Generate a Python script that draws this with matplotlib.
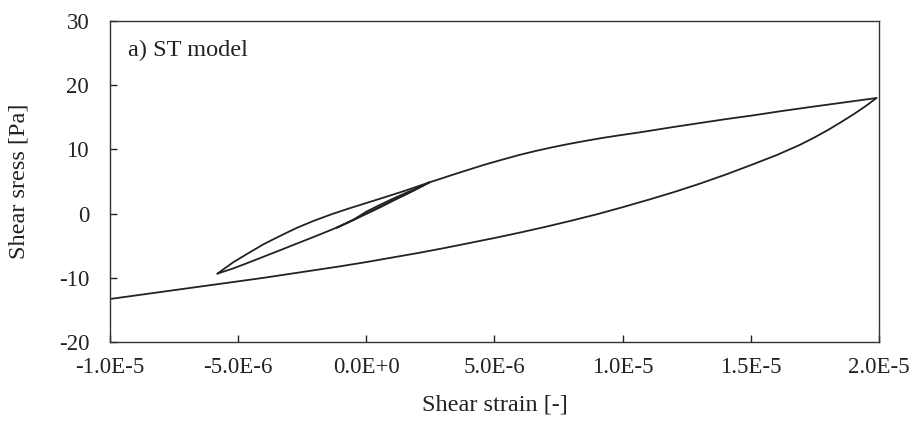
import matplotlib
matplotlib.use("Agg")
import matplotlib.pyplot as plt

plt.rcParams['font.family'] = ['Liberation Serif', 'DejaVu Serif']

# Big loop, lower (unloading) branch
big_lower_x = [1.99e-5, 1.95e-5, 1.9e-5, 1.848e-5, 1.8e-5, 1.75e-5, 1.691e-5, 1.6e-5, 1.5e-5,
               1.4e-5, 1.3e-5, 1.2e-5, 1.1e-5, 1.0e-5, 9.0e-6, 8.0e-6, 7.0e-6, 6.0e-6,
               5.0e-6, 4.0e-6, 3.0e-6, 2.0e-6, 1.0e-6, 0.0, -1.0e-6, -2.0e-6, -3.0e-6,
               -4.0e-6, -5.0e-6, -6.0e-6, -7.0e-6, -8.0e-6, -9.0e-6, -1.0e-5]
big_lower_y = [18.0, 16.8, 15.45, 14.15, 13.0, 11.9, 10.7, 9.1, 7.55,
               6.05, 4.65, 3.35, 2.15, 1.0, -0.1, -1.1, -2.05, -2.95,
               -3.8, -4.6, -5.4, -6.15, -6.85, -7.55, -8.2, -8.8, -9.4,
               -10.0, -10.55, -11.1, -11.65, -12.2, -12.75, -13.3]

# Big loop, upper (loading) branch from the middle-loop upper vertex
big_upper_x = [2.45e-6, 3.37e-6, 4.0e-6, 4.68e-6, 5.3e-6, 5.98e-6, 6.6e-6, 7.28e-6, 7.9e-6,
               8.58e-6, 9.2e-6, 9.88e-6, 1.066e-5, 1.2e-5, 1.3e-5, 1.4e-5, 1.5e-5,
               1.625e-5, 1.75e-5, 1.87e-5, 1.99e-5]
big_upper_y = [4.85, 6.05, 6.85, 7.7, 8.4, 9.15, 9.75, 10.35, 10.85,
               11.35, 11.78, 12.2, 12.65, 13.5, 14.1, 14.7, 15.25,
               16.0, 16.7, 17.35, 18.0]

# Middle loop, upper (loading) branch
mid_upper_x = [-5.81e-6, -5.2e-6, -4.64e-6, -4.0e-6, -3.33e-6, -2.7e-6, -2.03e-6, -1.32e-6,
               -0.6e-6, 0.0, 0.64e-6, 1.5e-6, 2.45e-6]
mid_upper_y = [-9.35, -7.6, -6.25, -4.75, -3.41, -2.2, -1.09, -0.05,
               0.9, 1.65, 2.45, 3.55, 4.85]

# Middle loop, lower (unloading) branch
mid_lower_x = [2.45e-6, 1.8e-6, 1.29e-6, 0.5e-6, 0.0, -0.66e-6, -1.32e-6, -2.03e-6, -2.7e-6,
               -3.33e-6, -4.0e-6, -4.64e-6, -5.2e-6, -5.81e-6]
mid_lower_y = [4.85, 3.5, 2.5, 0.9, -0.05, -1.3, -2.45, -3.6, -4.65,
               -5.65, -6.7, -7.7, -8.55, -9.35]

# Small inner loop
in_upper_x = [-1.15e-6, -0.5e-6, 0.0, 0.5e-6, 1.0e-6, 1.5e-6, 2.0e-6, 2.45e-6]
in_upper_y = [-2.2, -0.95, 0.3, 1.3, 2.25, 3.15, 4.0, 4.85]
in_lower_x = [2.45e-6, 2.0e-6, 1.5e-6, 1.0e-6, 0.5e-6, 0.0, -0.5e-6, -1.15e-6]
in_lower_y = [4.85, 3.9, 2.9, 2.0, 1.0, 0.05, -0.95, -2.2]

xticks = [-1.0e-5, -5.0e-6, 0.0, 5.0e-6, 1.0e-5, 1.5e-5, 2.0e-5]
xtick_labels = ["-1.0E-5", "-5.0E-6", "0.0E+0", "5.0E-6", "1.0E-5", "1.5E-5", "2.0E-5"]
yticks = [-20, -10, 0, 10, 20, 30]
ytick_labels = ["-20", "-10", "0", "10", "20", "30"]

fig = plt.figure(figsize=(9.18, 4.23), dpi=100)
ax = fig.add_axes([110 / 918, 1 - 342 / 423, 769 / 918, 321 / 423])

lc = '#222222'
lw = 1.3
for xs, ys in [(in_upper_x, in_upper_y), (in_lower_x, in_lower_y),
               (mid_upper_x, mid_upper_y), (mid_lower_x, mid_lower_y),
               (big_upper_x, big_upper_y), (big_lower_x, big_lower_y)]:
    ax.plot(xs, ys, color=lc, lw=lw, solid_joinstyle='round', solid_capstyle='round')

ax.set_xlim(-1.0e-5, 2.0e-5)
ax.set_ylim(-20, 30)
ax.set_xticks(xticks)
ax.set_xticklabels(xtick_labels)
ax.set_yticks(yticks)
ax.set_yticklabels(ytick_labels)
ax.tick_params(direction='in', length=5, width=1, labelsize=16.5, colors='#222222')
ax.tick_params(axis='y', pad=15)
ax.tick_params(axis='x', pad=11)
for s in ax.spines.values():
    s.set_color('#333333')
    s.set_linewidth(1.0)

ax.set_xlabel("Shear strain [-]", fontsize=17.5, color='#222222')
ax.xaxis.label.set_va('baseline')
ax.xaxis.set_label_coords(0.5, (342 - 410) / 321)
ax.set_ylabel("Shear sress [Pa]", fontsize=17.5, color='#222222')
ax.yaxis.label.set_va('center')
ax.yaxis.set_label_coords((19 - 110) / 769, 0.5)
ax.text((128 - 110) / 769, (342 - 56) / 321, "a) ST model", transform=ax.transAxes,
        fontsize=17.5, color='#222222', va='baseline', ha='left')

fig.savefig("out.png", dpi=100)
